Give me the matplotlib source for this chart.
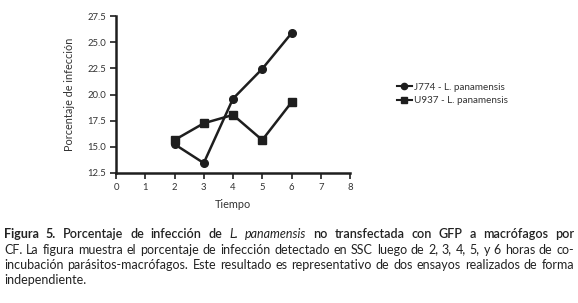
"""Infection percentage of L. panamensis in two macrophage lines over time."""

import matplotlib

matplotlib.use("Agg")
import matplotlib.pyplot as plt
from matplotlib.lines import Line2D

plt.rcParams["font.family"] = ["Lato", "DejaVu Sans"]

# data
tiempo = [2, 3, 4, 5, 6]
j774 = [15.25, 13.45, 19.6, 22.45, 25.85]
u937 = [15.65, 17.25, 18.05, 15.65, 19.25]
series_labels = ["J774 - L. panamensis", "U937 - L. panamensis"]
x_ticks = [0, 1, 2, 3, 4, 5, 6, 7, 8]
y_ticks = [12.5, 15.0, 17.5, 20.0, 22.5, 25.0, 27.5]

caption_lines = [
    [("Figura 5.", "bold", "normal"),
     ("Porcentaje de infección de", "semibold", "normal"),
     ("L. panamensis", "normal", "italic"),
     ("no transfectada con GFP a macrófagos por", "semibold", "normal")],
    [("CF. La figura muestra el porcentaje de infección detectado en SSC luego de 2, 3, 4, 5, y 6 horas de co-",
      "normal", "normal")],
    [("incubación parásitos-macrófagos. Este resultado es representativo de dos ensayos realizados de forma",
      "normal", "normal")],
    [("independiente.", "normal", "normal")],
]

INK = "#1e1e1e"
GREY = "#333333"
W, H = 578, 303

fig = plt.figure(figsize=(W / 100, H / 100), dpi=100)
ax = fig.add_axes([116 / W, 1 - 173 / H, (350 - 116) / W, (173 - 16) / H])

ax.plot(tiempo, j774, color=INK, lw=1.8, marker="o", ms=5.5, mfc=INK, mec=INK,
        clip_on=False)
ax.plot(tiempo, u937, color=INK, lw=1.8, marker="s", ms=5.5, mfc=INK, mec=INK,
        clip_on=False)

ax.set_xlim(0, 8)
ax.set_ylim(12.5, 27.5)
ax.set_xticks(x_ticks)
ax.set_yticks(y_ticks)
ax.set_yticklabels([f"{v:.1f}" for v in y_ticks])
for side in ("top", "right"):
    ax.spines[side].set_visible(False)
for side in ("left", "bottom"):
    ax.spines[side].set_linewidth(1.8)
    ax.spines[side].set_color(INK)
ax.tick_params(length=4, width=1.2, color=INK, labelsize=6.8,
               labelcolor=GREY, pad=3)
ax.set_xlabel("Tiempo", fontsize=7.8, color=GREY, labelpad=5)
ax.set_ylabel("Porcentaje de infección", fontsize=7.8, color=GREY,
              labelpad=9)

handles = [
    Line2D([], [], color=INK, lw=1.5, marker="o", ms=4.5, mfc=INK, mec=INK),
    Line2D([], [], color=INK, lw=1.5, marker="s", ms=4.5, mfc=INK, mec=INK),
]
fig.legend(handles, series_labels, loc="center left",
           bbox_to_anchor=(392 / W, 1 - 94 / H), frameon=False,
           fontsize=7.1, handlelength=1.5, handletextpad=0.25,
           labelspacing=0.45, borderpad=0, labelcolor=GREY)

# caption, justified by hand word by word
renderer = fig.canvas.get_renderer()
left_px, right_px = 4, 574
baselines = [238, 253.5, 269, 284.5]
cap_size = 9.0
for line_no, (segments, base) in enumerate(zip(caption_lines, baselines)):
    words = []
    for text, weight, style in segments:
        for word in text.split(" "):
            words.append((word, weight, style))
    artists = []
    for word, weight, style in words:
        t = fig.text(0, 1 - base / H, word, fontsize=cap_size,
                     fontweight=weight, fontstyle=style, color="#222222",
                     va="baseline", ha="left")
        artists.append(t)
    widths = [a.get_window_extent(renderer).width for a in artists]
    last = line_no == len(caption_lines) - 1
    if last or len(words) == 1:
        gap = 3.0
    else:
        gap = (right_px - left_px - sum(widths)) / (len(words) - 1)
    x = left_px
    for a, w in zip(artists, widths):
        a.set_x(x / W)
        x += w + gap

fig.savefig("out.png", dpi=100)
